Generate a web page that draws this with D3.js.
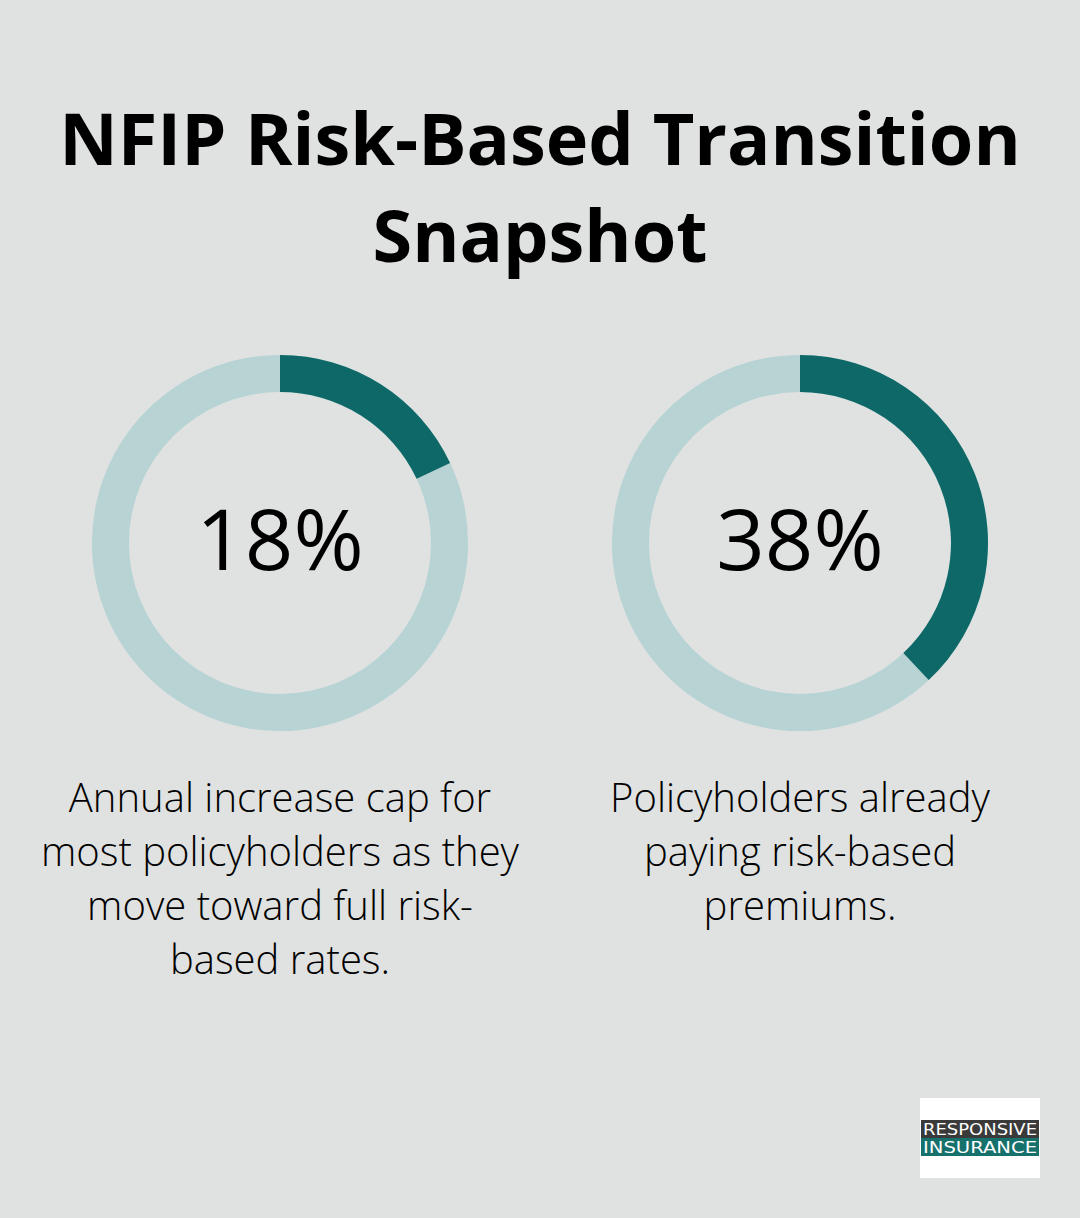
<!DOCTYPE html>
<html>
<head>
<meta charset="utf-8">
<script src="https://cdn.jsdelivr.net/npm/d3@7"></script>
<style>
  body { margin: 0; background: #e0e2e1; }
  svg { display: block; }
</style>
</head>
<body>
<svg id="chart" width="1080" height="1218"></svg>
<script>
// chart data
const titleLines = ["NFIP Risk-Based Transition", "Snapshot"];
const labels = ["18%", "38%"];
const values = [18, 38];
const captions = [
  ["Annual increase cap for", "most policyholders as they", "move toward full risk-", "based rates."],
  ["Policyholders already", "paying risk-based", "premiums."]
];

const W = 1080, H = 1218;
const svg = d3.select("#chart");

svg.append("rect").attr("width", W).attr("height", H).attr("fill", "#e0e2e1");

// title
svg.append("g").selectAll("text")
  .data(titleLines)
  .join("text")
  .attr("x", W / 2)
  .attr("y", (d, i) => 165 + i * 97)
  .attr("text-anchor", "middle")
  .attr("font-family", "'Open Sans', sans-serif")
  .attr("font-weight", 700)
  .attr("font-size", 72)
  .attr("fill", "#000")
  .text(d => d);

var x = d3.scalePoint()
  .domain(d3.range(values.length))
  .range([280, 800]);

var angle = d3.scaleLinear().domain([0, 100]).range([0, 2 * Math.PI]);

var arc = d3.arc().innerRadius(151).outerRadius(188);

values.forEach((v, i) => {
  let g = svg.append("g").attr("transform", "translate(" + x(i) + ",543)");
  g.append("path")
    .attr("d", arc({startAngle: 0, endAngle: 2 * Math.PI}))
    .attr("fill", "#b7d3d4");
  g.append("path")
    .attr("d", arc({startAngle: 0, endAngle: angle(v)}))
    .attr("fill", "#0f6868");
  g.append("text")
    .attr("y", 27)
    .attr("text-anchor", "middle")
    .attr("font-family", "'Open Sans', sans-serif")
    .attr("font-weight", 500)
    .attr("font-size", 85)
    .attr("fill", "#000")
    .text(labels[i]);

  svg.append("g").selectAll("text")
    .data(captions[i])
    .join("text")
    .attr("x", x(i))
    .attr("y", (d, j) => 812 + j * 54)
    .attr("text-anchor", "middle")
    .attr("font-family", "'Open Sans', sans-serif")
    .attr("font-weight", 300)
    .attr("font-size", 40)
    .attr("fill", "#000")
    .text(d => d);
});

// logo
var logo = svg.append("g").attr("transform", "translate(920,1098)");
logo.append("rect").attr("width", 120).attr("height", 80).attr("fill", "#fff");
logo.append("rect").attr("x", 1).attr("y", 22).attr("width", 118).attr("height", 18).attr("fill", "#3a3a3a");
logo.append("rect").attr("x", 1).attr("y", 40).attr("width", 118).attr("height", 18).attr("fill", "#16706c");
logo.append("text").attr("x", 60).attr("y", 37).attr("text-anchor", "middle")
  .attr("font-family", "'DejaVu Sans Condensed', sans-serif").attr("font-size", 16)
  .attr("fill", "#fff").attr("textLength", 114).attr("lengthAdjust", "spacingAndGlyphs")
  .text("RESPONSIVE");
logo.append("text").attr("x", 60).attr("y", 55).attr("text-anchor", "middle")
  .attr("font-family", "'DejaVu Sans Condensed', sans-serif").attr("font-size", 16)
  .attr("fill", "#fff").attr("textLength", 114).attr("lengthAdjust", "spacingAndGlyphs")
  .text("INSURANCE");
</script>
</body>
</html>
